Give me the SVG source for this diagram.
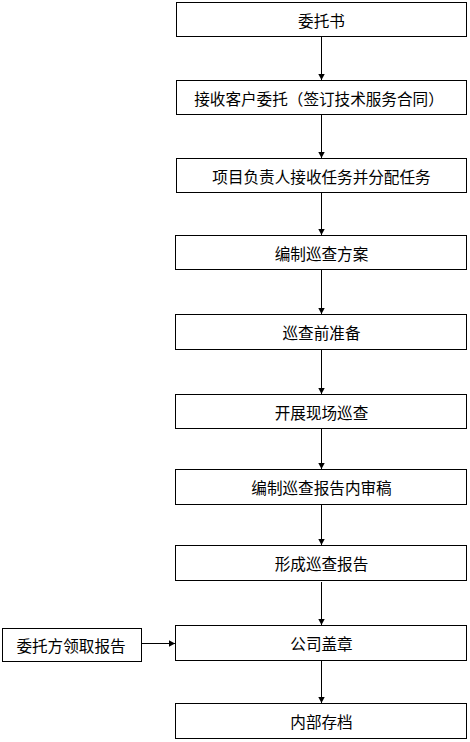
<svg xmlns="http://www.w3.org/2000/svg" width="470" height="742" viewBox="0 0 470 742">
<style>
.box{fill:#fff;stroke:#000;stroke-width:1}
.t{font-family:"Noto Sans CJK SC","Liberation Sans",sans-serif;font-size:15.6px;fill:#000;text-anchor:middle;dominant-baseline:central}
.c{stroke:#000;stroke-width:1;fill:none;marker-end:url(#ah)}
</style>
<defs>
<marker id="ah" markerWidth="8" markerHeight="8" refX="7" refY="4" orient="auto" markerUnits="userSpaceOnUse">
<path d="M1,0.8 L7,4 L1,7.2 Z" fill="#000"/>
</marker>
</defs>
<rect width="470" height="742" fill="#fff"/>
<g id="connectors">
<line class="c" x1="321.5" y1="36.5" x2="321.5" y2="80"/>
<line class="c" x1="321.5" y1="114.5" x2="321.5" y2="158"/>
<line class="c" x1="321.5" y1="192.5" x2="321.5" y2="235"/>
<line class="c" x1="321.5" y1="269.5" x2="321.5" y2="314"/>
<line class="c" x1="321.5" y1="349.5" x2="321.5" y2="394"/>
<line class="c" x1="321.5" y1="428.5" x2="321.5" y2="469"/>
<line class="c" x1="321.5" y1="504.5" x2="321.5" y2="545"/>
<line class="c" x1="321.5" y1="582" x2="321.5" y2="625"/>
<line class="c" x1="321.5" y1="660.5" x2="321.5" y2="703"/>
<line class="c" x1="141.5" y1="643.5" x2="175" y2="643.5"/>
</g>
<g id="n1"><rect class="box" x="176.5" y="2.5" width="290" height="34"/><text class="t" x="321.5" y="19.5">委托书</text></g>
<g id="n2"><rect class="box" x="176.5" y="80.5" width="290" height="34"/><text class="t" x="319" y="97.5">接收客户委托（签订技术服务合同）</text></g>
<g id="n3"><rect class="box" x="176.5" y="158.5" width="290" height="34"/><text class="t" x="321.5" y="175.5">项目负责人接收任务并分配任务</text></g>
<g id="n4"><rect class="box" x="175.5" y="235.5" width="291" height="34"/><text class="t" x="321.5" y="252.5">编制巡查方案</text></g>
<g id="n5"><rect class="box" x="175.5" y="314.5" width="291" height="35"/><text class="t" x="321.5" y="332">巡查前准备</text></g>
<g id="n6"><rect class="box" x="175.5" y="394.5" width="291" height="34"/><text class="t" x="321.5" y="411.5">开展现场巡查</text></g>
<g id="n7"><rect class="box" x="175.5" y="469.5" width="291" height="35"/><text class="t" x="321.5" y="487">编制巡查报告内审稿</text></g>
<g id="n8"><rect class="box" x="175.5" y="545.5" width="291" height="35"/><text class="t" x="321.5" y="563">形成巡查报告</text></g>
<g id="n9"><rect class="box" x="175.5" y="625.5" width="291" height="35"/><text class="t" x="321.5" y="643">公司盖章</text></g>
<g id="n10"><rect class="box" x="175.5" y="703.5" width="291" height="35"/><text class="t" x="321.5" y="721">内部存档</text></g>
<g id="n11"><rect class="box" x="2.5" y="628.5" width="139" height="33"/><text class="t" x="71" y="645">委托方领取报告</text></g>
</svg>
